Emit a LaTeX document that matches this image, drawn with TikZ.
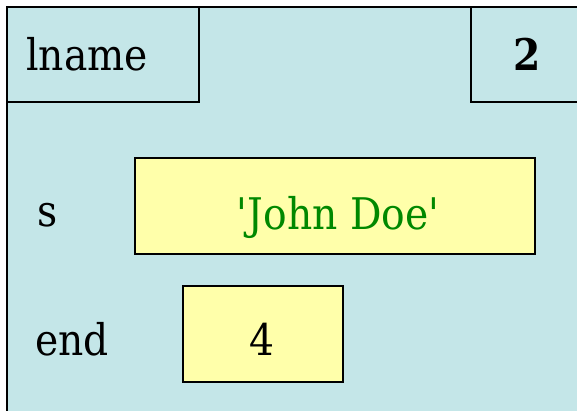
\documentclass[tikz,border=0pt]{standalone}
\usepackage{fontspec}
\setmainfont{DejaVu Serif Condensed}
\definecolor{frameblue}{RGB}{196,230,232}
\definecolor{cellyellow}{RGB}{255,255,170}
\definecolor{strgreen}{RGB}{0,136,0}
\tikzset{
  txt/.style={anchor=base,inner sep=0pt,font=\fontsize{31}{34}\selectfont},
  cell/.style={draw,fill=cellyellow,line width=1.4pt}
}
\begin{document}
\begin{tikzpicture}[x=0.025cm,y=-0.025cm]
		\useasboundingbox (0,0) rectangle (577,410);
		\clip (0,0) rectangle (577,410);
		% frame and header
		\draw[fill=frameblue,line width=1.4pt] (7,7) rectangle (620,440);
		\draw[line width=1.4pt] (7,7) rectangle (199,102);
		\draw[line width=1.4pt] (471,7) rectangle (620,102);
		\node[txt,anchor=base west] (fname) at (26,70) {lname};
		\node[txt] (lineno) at (527,70) {\bfseries 2};
		% variables
		\draw[cell] (135,158) rectangle (535,254);
		\node[txt,anchor=base west] (svar) at (37,226) {s};
		\node[txt,text=strgreen] (sval) at (338,229) {\textquotesingle John Doe\textquotesingle};
		\draw[cell] (183,286) rectangle (343,382);
		\node[txt,anchor=base west] (endvar) at (35,355) {end};
		\node[txt] (endval) at (262,355) {4};
	\end{tikzpicture}
\end{document}
